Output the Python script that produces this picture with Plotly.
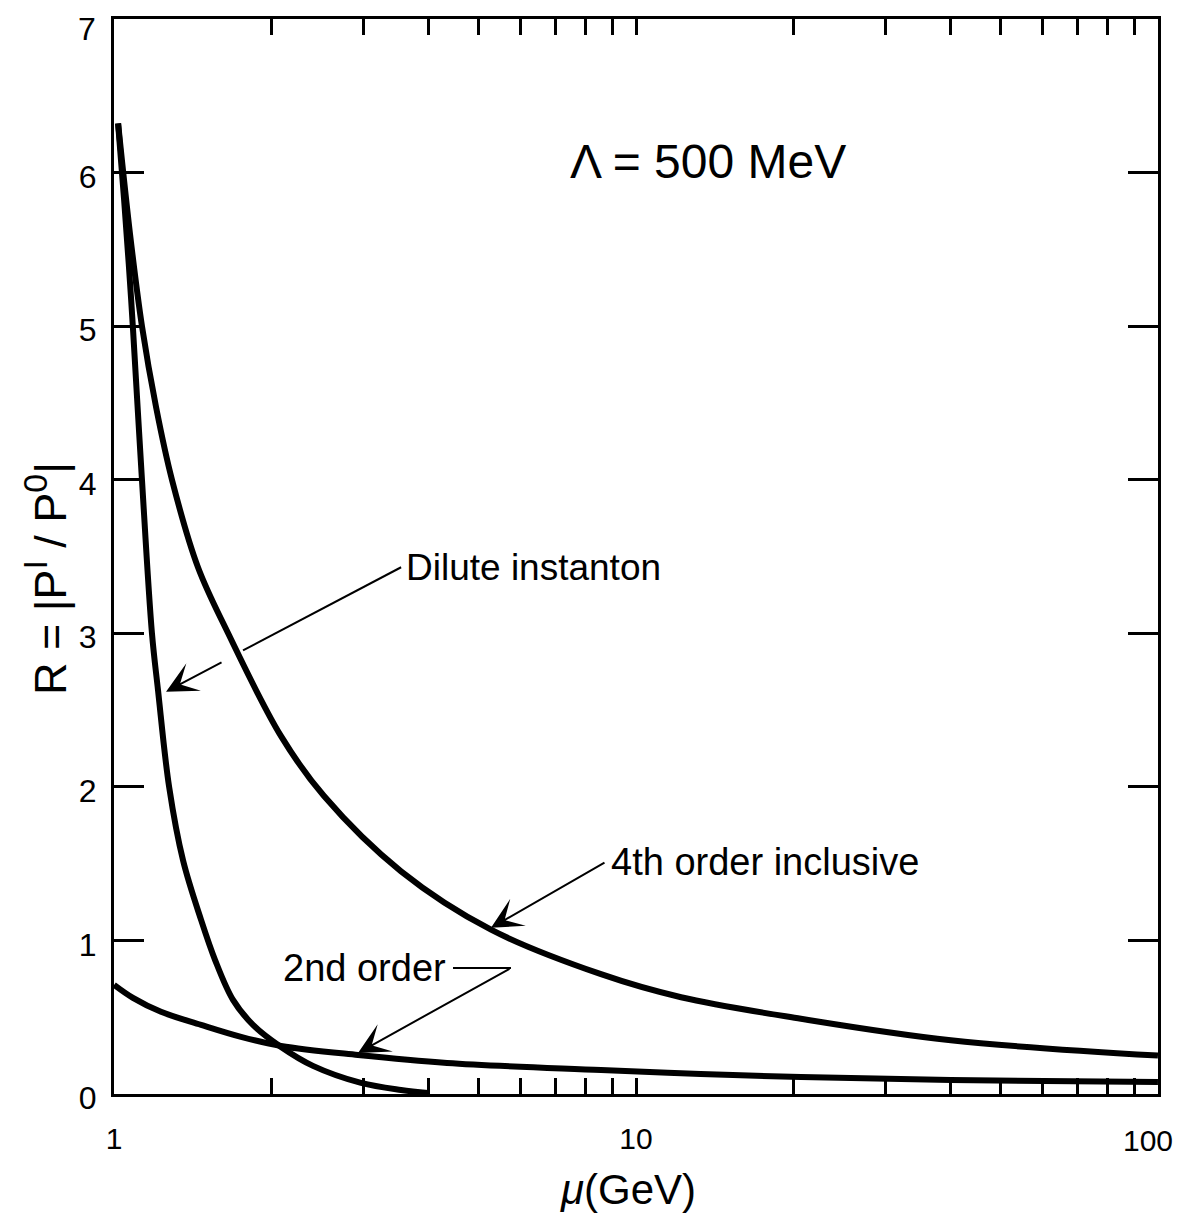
import numpy as np
import plotly.graph_objects as go

# ---- data ----
mu_4th = [1.018, 1.073, 1.131, 1.204, 1.291, 1.448, 1.654, 2.089, 2.525, 3.547, 5.275, 8.57, 12.2, 20.7, 40.1, 100.0]
r_4th = [6.32, 5.60, 5.00, 4.47, 4.00, 3.43, 3.00, 2.33, 1.94, 1.45, 1.07, 0.78, 0.63, 0.49, 0.35, 0.25]

mu_dilute = [1.018, 1.045, 1.078, 1.107, 1.131, 1.182, 1.214, 1.275, 1.356, 1.468, 1.561, 1.690,
             1.846, 2.089, 2.405, 2.973, 3.546, 3.996]
r_dilute = [6.32, 5.83, 5.18, 4.53, 4.00, 3.00, 2.63, 2.00, 1.52, 1.134, 0.874, 0.613,
            0.45, 0.306, 0.183, 0.072, 0.026, 0.0065]

mu_2nd = [1.0, 1.087, 1.230, 1.468, 1.751, 2.089, 2.934, 4.345, 8.57, 13.3, 20.7, 40.1, 100.0]
r_2nd = [0.711, 0.626, 0.535, 0.450, 0.372, 0.313, 0.254, 0.202, 0.156, 0.130, 0.111, 0.091, 0.078]

xtick_vals = [1, 2, 3, 4, 5, 6, 7, 8, 9, 10, 20, 30, 40, 50, 60, 70, 80, 90, 100]
xtick_text = ["1", "", "", "", "", "", "", "", "", "10", "", "", "", "", "", "", "", "", ""]
x_end_label = "100"
ytick_vals = [0, 1, 2, 3, 4, 5, 6, 7]
ytick_text = ["0", "1", "2", "3", "4", "5", "6", ""]
y_end_label = "7"

FONT = "Liberation Sans"
BLACK = "black"

fig = go.Figure()
for xs, ys in [(mu_4th, r_4th), (mu_dilute, r_dilute), (mu_2nd, r_2nd)]:
    fig.add_trace(go.Scatter(x=xs, y=ys, mode="lines",
                             line=dict(color=BLACK, width=6, shape="spline", smoothing=1.0),
                             hoverinfo="skip"))

# leader lines (no arrowhead): "2nd order" horizontal stub and the part of the
# "Dilute instanton" pointer before it is interrupted by the 4th-order curve
fig.add_trace(go.Scatter(x=[10 ** 0.6494, 10 ** 0.7605], y=[0.821, 0.821], mode="lines",
                         line=dict(color=BLACK, width=2), hoverinfo="skip"))
fig.add_trace(go.Scatter(x=[10 ** 0.550, 10 ** 0.2471], y=[3.43, 2.888], mode="lines",
                         line=dict(color=BLACK, width=2), hoverinfo="skip"))

def arrow(x, y, ax, ay):
    return dict(x=x, y=y, ax=ax, ay=ay, xref="x", yref="y", axref="x", ayref="y",
                text="", showarrow=True, arrowhead=3, arrowsize=2.6, arrowwidth=2,
                arrowcolor=BLACK, standoff=0, startstandoff=0)

def label(x, y, text, size, xanchor="left"):
    return dict(x=x, y=y, xref="x", yref="y", text=text, showarrow=False,
                xanchor=xanchor, yanchor="middle",
                font=dict(family=FONT, size=size, color=BLACK))

annotations = [
    arrow(0.0996, 2.62, 0.2088, 2.816),
    arrow(0.7222, 1.082, 0.9425, 1.512),
    arrow(0.4674, 0.267, 0.7605, 0.821),
    label(0.5556, 3.43, "Dilute instanton", 37),
    label(0.948, 1.512, "4th order inclusive", 38),
    label(0.640, 0.821, "2nd order", 38, xanchor="right"),
    label(1.138, 6.075, "Λ = 500 MeV", 48, xanchor="center"),
    dict(x=-0.0651, y=0.479, xref="paper", yref="paper", showarrow=False, textangle=-90,
         text="R = |P<sup><span style='font-size:34px'>I</span></sup> / "
              "P<sup><span style='font-size:34px'>0</span></sup>|",
         xanchor="center", yanchor="middle",
         font=dict(family=FONT, size=45, color=BLACK)),
    dict(x=0.4923, y=-0.0893, xref="paper", yref="paper", showarrow=False,
         text="<i>μ</i>(GeV)", xanchor="center", yanchor="middle",
         font=dict(family=FONT, size=42, color=BLACK)),
    # end labels placed as annotations so they are not clipped at the page edge
    dict(x=1.0163, y=-0.0428, xref="paper", yref="paper", showarrow=False,
         text=x_end_label, xanchor="right", yanchor="middle",
         font=dict(family=FONT, size=30, color=BLACK)),
    dict(x=-0.0153, y=1.0093, xref="paper", yref="paper", showarrow=False,
         text=y_end_label, xanchor="right", yanchor="top",
         font=dict(family=FONT, size=32, color=BLACK)),
]

# the page body adds a small offset, so the figure is slightly smaller than the window
fig.update_layout(
    width=1168, height=1207,
    margin=dict(l=106, r=18, t=11, b=121, autoexpand=False),
    paper_bgcolor="white", plot_bgcolor="white",
    showlegend=False,
    annotations=annotations,
)

axis_common = dict(showgrid=False, zeroline=False, showline=True, linewidth=3,
                   linecolor=BLACK, mirror="ticks", ticks="inside", tickwidth=3,
                   tickcolor=BLACK, automargin=False, ticklabeloverflow="allow")

fig.update_xaxes(type="log", range=[-0.0001, 2.0001], tickmode="array", tickvals=xtick_vals,
                 ticktext=xtick_text, ticklen=16, ticklabelstandoff=16,
                 tickfont=dict(family=FONT, size=30, color=BLACK), **axis_common)
fig.update_yaxes(range=[0, 7], tickmode="array", tickvals=ytick_vals, ticktext=ytick_text,
                 ticklen=30, ticklabelstandoff=8, ticklabelshift=4,
                 tickfont=dict(family=FONT, size=32, color=BLACK), **axis_common)

fig.write_html("out.html")
